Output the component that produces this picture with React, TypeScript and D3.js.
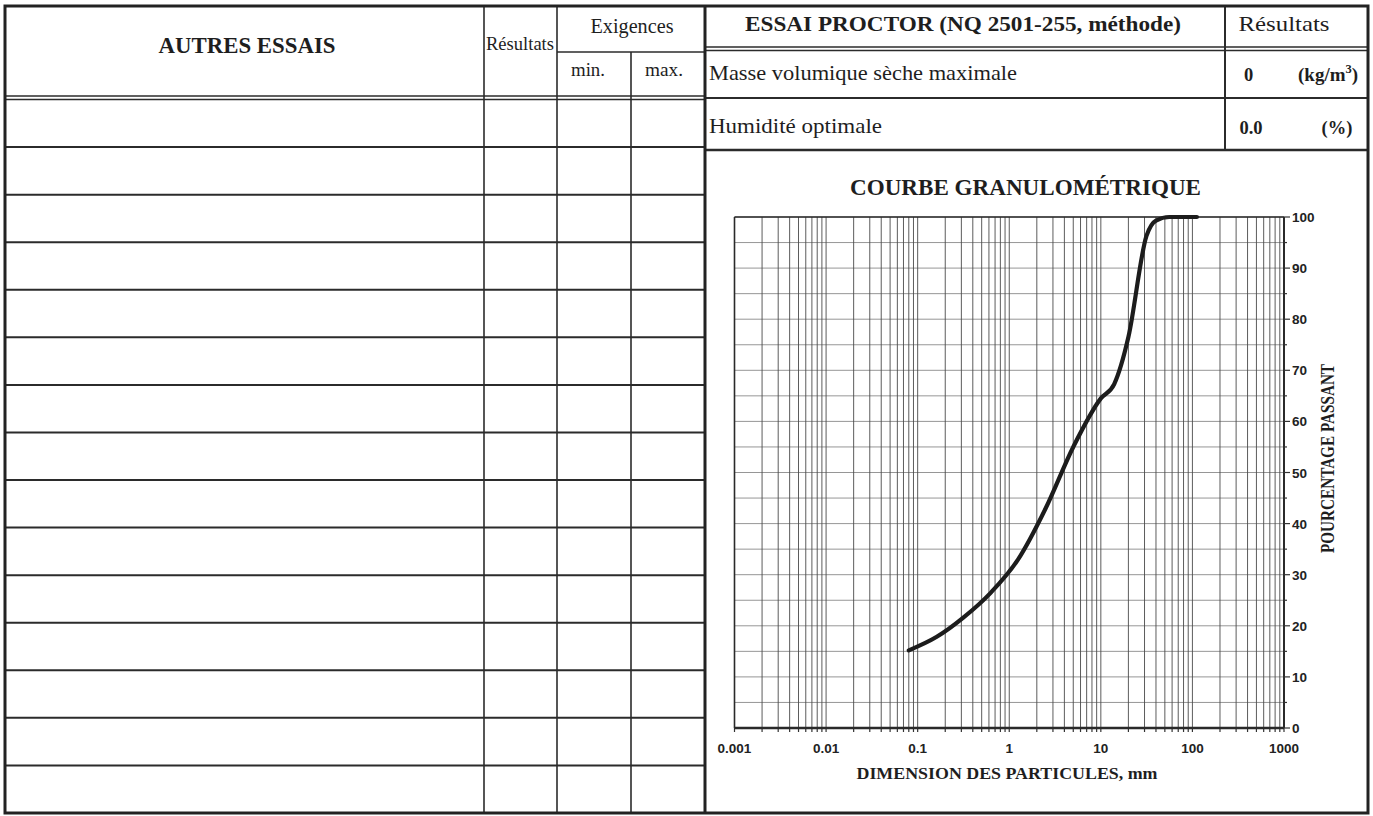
import React from "react";
import * as d3 from "d3";

// ---- data ----
const sieveSizes = [0.08, 0.16, 0.315, 0.63, 1.25, 2.5, 5, 10, 14, 20, 31.5, 40, 56, 80, 112];
const percentPassing = [15.2, 17.8, 21.6, 26.5, 33, 43, 55, 64.5, 67.3, 76.5, 96.3, 99.3, 100, 100, 100];
const yTickValues = [0, 10, 20, 30, 40, 50, 60, 70, 80, 90, 100];
const yGridValues = [0, 5, 10, 15, 20, 25, 30, 35, 40, 45, 50, 55, 60, 65, 70, 75, 80, 85, 90, 95, 100];
const xTickValues = [0.001, 0.01, 0.1, 1, 10, 100, 1000];
const xTickLabels = ["0.001", "0.01", "0.1", "1", "10", "100", "1000"];
const autresRows = ["", "", "", "", "", "", "", "", "", "", "", "", "", "", ""];
const proctorRows = ["Masse volumique sèche maximale", "Humidité optimale"];
const proctorValues = ["0", "0.0"];
const proctorUnits = ["kg/m", "%"];

const SERIF = "'Liberation Serif', 'Times New Roman', serif";
const SANS = "'Liberation Sans', Arial, sans-serif";
const INK = "#2b2b2b";

export default function App() {
  const x = d3.scaleLog().domain([0.001, 1000]).range([734.5, 1284]);
  const y = d3.scaleLinear().domain([0, 100]).range([728, 217]);

  const gridX: number[] = [];
  for (let e = -3; e <= 2; e++) {
    for (let k = 1; k <= 9; k++) gridX.push(k * Math.pow(10, e));
  }
  gridX.push(1000);

  const pts = sieveSizes.map((s, i) => [s, percentPassing[i]] as [number, number]);
  const line = d3
    .line<[number, number]>()
    .x((d) => x(d[0]))
    .y((d) => y(d[1]))
    .curve(d3.curveMonotoneX);

  // table layout
  const L = 5, R = 1368, T = 6, B = 813, MID = 705;
  const rowTop = 99.5;
  const rowH = (B - rowTop) / autresRows.length;

  return (
    <svg width={1373} height={816} style={{ position: "absolute", left: 0, top: 0, background: "#fff" }}>
      <rect x={0} y={0} width={1373} height={816} fill="#fff" />

      {/* ---------- left table ---------- */}
      <g stroke={INK} fill="none">
        <line x1={L} x2={MID} y1={96} y2={96} strokeWidth={1.4} />
        <line x1={L} x2={MID} y1={99.5} y2={99.5} strokeWidth={1.4} />
        <line x1={557} x2={MID} y1={52} y2={52} strokeWidth={1.6} />
        <line x1={484} x2={484} y1={T} y2={B} strokeWidth={1.6} />
        <line x1={557} x2={557} y1={T} y2={B} strokeWidth={1.6} />
        <line x1={631} x2={631} y1={52} y2={B} strokeWidth={1.6} />
        {autresRows.slice(1).map((_, i) => (
          <line key={i} x1={L} x2={MID} y1={rowTop + rowH * (i + 1)} y2={rowTop + rowH * (i + 1)} strokeWidth={2} />
        ))}
      </g>
      <g fill="#1e1e1e" fontFamily={SERIF}>
        <text x={247} y={53} fontSize={22.5} fontWeight="bold" textAnchor="middle" textLength={177} lengthAdjust="spacingAndGlyphs">AUTRES ESSAIS</text>
        <text x={486} y={50} fontSize={18.5} textLength={68} lengthAdjust="spacingAndGlyphs">Résultats</text>
        <text x={632} y={33} fontSize={20} textAnchor="middle" textLength={83} lengthAdjust="spacingAndGlyphs">Exigences</text>
        <text x={588} y={76} fontSize={19} textAnchor="middle" textLength={34} lengthAdjust="spacingAndGlyphs">min.</text>
        <text x={664} y={76} fontSize={19} textAnchor="middle" textLength={38} lengthAdjust="spacingAndGlyphs">max.</text>
      </g>

      {/* ---------- right table ---------- */}
      <g stroke={INK} fill="none">
        <line x1={MID} x2={R} y1={47} y2={47} strokeWidth={1.4} />
        <line x1={MID} x2={R} y1={50.5} y2={50.5} strokeWidth={1.4} />
        <line x1={MID} x2={R} y1={98} y2={98} strokeWidth={2} />
        <line x1={MID} x2={R} y1={150} y2={150} strokeWidth={2.4} />
        <line x1={1225} x2={1225} y1={T} y2={150} strokeWidth={2} />
      </g>
      <g fill="#1e1e1e" fontFamily={SERIF}>
        <text x={963} y={31} fontSize={22} fontWeight="bold" textAnchor="middle" textLength={436} lengthAdjust="spacingAndGlyphs">ESSAI PROCTOR (NQ 2501-255, méthode)</text>
        <text x={1284} y={31} fontSize={21} textAnchor="middle" textLength={91} lengthAdjust="spacingAndGlyphs">Résultats</text>
        {proctorRows.map((r, i) => (
          <text key={r} x={709} y={i === 0 ? 80 : 133} fontSize={21} textLength={i === 0 ? 308 : 173} lengthAdjust="spacingAndGlyphs">{r}</text>
        ))}
        <text x={1248.5} y={81} fontSize={18.5} fontWeight="bold" textAnchor="middle">{proctorValues[0]}</text>
        <text x={1298} y={81} fontSize={19} fontWeight="bold">
          ({proctorUnits[0]}<tspan dy={-8} fontSize={12.5}>3</tspan><tspan dy={8}>)</tspan>
        </text>
        <text x={1251} y={134} fontSize={18.5} fontWeight="bold" textAnchor="middle">{proctorValues[1]}</text>
        <text x={1337} y={134} fontSize={18.5} fontWeight="bold" textAnchor="middle">({proctorUnits[1]})</text>
      </g>

      {/* ---------- chart ---------- */}
      <text x={1025.5} y={195} fontFamily={SERIF} fontSize={23} fontWeight="bold" textAnchor="middle" fill="#1e1e1e" textLength={351} lengthAdjust="spacingAndGlyphs">COURBE GRANULOMÉTRIQUE</text>

      <g>
        {yGridValues.map((v) => (
          <line key={"h" + v} x1={x(0.001)} x2={x(1000)} y1={y(v)} y2={y(v)} stroke="#8a8a8a" strokeWidth={0.9} />
        ))}
        {gridX.map((v, i) => (
          <line key={"v" + i} x1={x(v)} x2={x(v)} y1={y(100)} y2={y(0)} stroke="#4a4a4a" strokeWidth={0.9} />
        ))}
        {gridX.map((v, i) => (
          <line key={"t" + i} x1={x(v)} x2={x(v)} y1={y(0)} y2={y(0) + 4} stroke="#333" strokeWidth={1.2} />
        ))}
        {/* frame */}
        <line x1={x(0.001)} x2={x(1000)} y1={y(100)} y2={y(100)} stroke="#2a2a2a" strokeWidth={1.6} />
        <line x1={x(0.001)} x2={x(0.001)} y1={y(100)} y2={y(0)} stroke="#2a2a2a" strokeWidth={1.6} />
        <line x1={x(0.001)} x2={x(1000)} y1={y(0)} y2={y(0)} stroke="#2a2a2a" strokeWidth={2.4} />
        <line x1={x(1000)} x2={x(1000)} y1={y(100)} y2={y(0)} stroke="#2a2a2a" strokeWidth={2} />
        {yGridValues.map((v) => (
          <line key={"yt" + v} x1={x(1000)} x2={x(1000) + (v % 10 === 0 ? 6 : 3)} y1={y(v)} y2={y(v)} stroke="#333" strokeWidth={1.2} />
        ))}
      </g>

      <path d={line(pts) || ""} fill="none" stroke="#1c1c1c" strokeWidth={4.2} strokeLinecap="round" strokeLinejoin="round" />

      <g fontFamily={SANS} fontWeight="bold" fontSize={13.5} fill="#222">
        {yTickValues.map((v) => (
          <text key={"yl" + v} x={x(1000) + 8} y={y(v) + 5}>{v}</text>
        ))}
        {xTickValues.map((v, i) => (
          <text key={"xl" + i} x={x(v)} y={753} textAnchor="middle">{xTickLabels[i]}</text>
        ))}
      </g>

      <text x={1007} y={779} fontFamily={SERIF} fontSize={17.5} fontWeight="bold" textAnchor="middle" fill="#1e1e1e" textLength={301} lengthAdjust="spacingAndGlyphs">DIMENSION DES PARTICULES, mm</text>
      <text transform="translate(1334,458.5) scale(1.3,1) rotate(-90)" fontFamily={SERIF} fontSize={15} fontWeight="bold" textAnchor="middle" fill="#1e1e1e" textLength={189} lengthAdjust="spacingAndGlyphs">POURCENTAGE PASSANT</text>

      {/* outer borders */}
      <rect x={L} y={T} width={R - L} height={B - T} fill="none" stroke="#222" strokeWidth={3} />
      <line x1={MID} x2={MID} y1={T} y2={B} stroke="#222" strokeWidth={3} />
    </svg>
  );
}
